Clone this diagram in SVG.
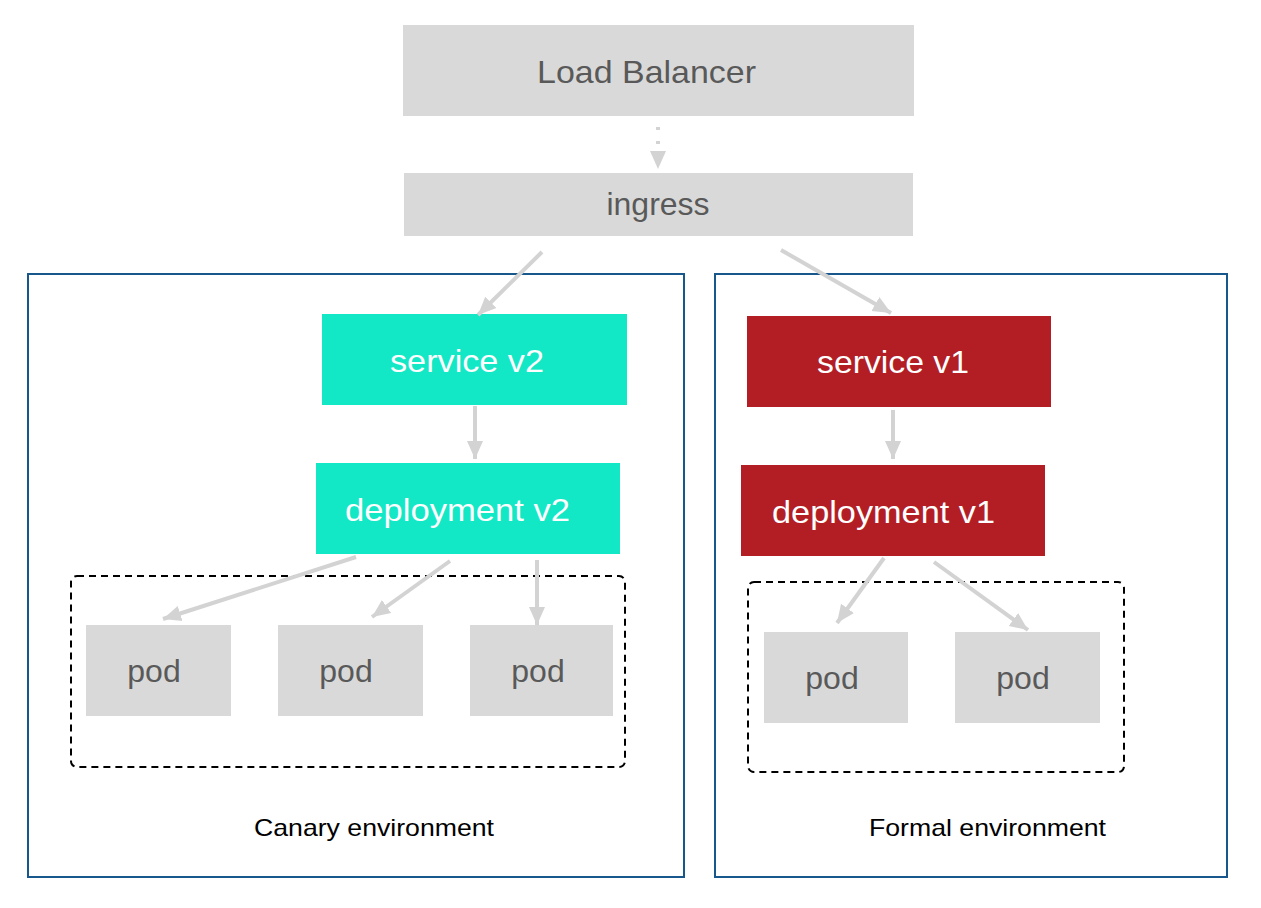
<svg xmlns="http://www.w3.org/2000/svg" width="1261" height="908" viewBox="0 0 1261 908">
<style>
.gray{fill:#d9d9d9}
.teal{fill:#12e8c5}
.red{fill:#b31e25}
.env{fill:none;stroke:#17578c;stroke-width:2}
.dash{fill:none;stroke:#000;stroke-width:2;stroke-dasharray:7 5}
.t{font-family:"Liberation Sans",Arial,sans-serif;font-size:32px}
.tg{fill:#595959}
.tw{fill:#fff}
.lbl{font-family:"Liberation Sans",Arial,sans-serif;font-size:24px;fill:#000}
.c{stroke:#d3d3d3;stroke-width:4;fill:none}
</style>
<defs>
<marker id="ah" markerUnits="userSpaceOnUse" markerWidth="20" markerHeight="20" viewBox="0 0 20 20" refX="18" refY="10" orient="auto">
<path d="M0,2 L18,10 L0,18 Z" fill="#d3d3d3"/>
</marker>
</defs>
<g id="canary-env">
<rect class="env" x="28" y="274" width="656" height="603"/>
<text class="lbl" x="254" y="836" textLength="240" lengthAdjust="spacingAndGlyphs">Canary environment</text>
</g>
<g id="formal-env">
<rect class="env" x="715" y="274" width="512" height="603"/>
<text class="lbl" x="869" y="836" textLength="237" lengthAdjust="spacingAndGlyphs">Formal environment</text>
</g>
<g id="pods-v2-group"><rect class="dash" x="71" y="576" width="554" height="191" rx="6"/></g>
<g id="pods-v1-group"><rect class="dash" x="748" y="582" width="376" height="190" rx="6"/></g>
<g id="load-balancer">
<rect class="gray" x="403" y="25" width="511" height="91"/>
<text class="t tg" x="537" y="83" textLength="219" lengthAdjust="spacingAndGlyphs">Load  Balancer</text>
</g>
<g id="ingress">
<rect class="gray" x="404" y="173" width="509" height="63"/>
<text class="t tg" x="658" y="215" text-anchor="middle">ingress</text>
</g>
<g id="service-v2">
<rect class="teal" x="322" y="314" width="305" height="91"/>
<text class="t tw" x="390" y="372" textLength="154" lengthAdjust="spacingAndGlyphs">service v2</text>
</g>
<g id="deployment-v2">
<rect class="teal" x="316" y="463" width="304" height="91"/>
<text class="t tw" x="345" y="521" textLength="225" lengthAdjust="spacingAndGlyphs">deployment  v2</text>
</g>
<g id="service-v1">
<rect class="red" x="747" y="316" width="304" height="91"/>
<text class="t tw" x="817" y="373" textLength="152" lengthAdjust="spacingAndGlyphs">service v1</text>
</g>
<g id="deployment-v1">
<rect class="red" x="741" y="465" width="304" height="91"/>
<text class="t tw" x="772" y="523" textLength="223" lengthAdjust="spacingAndGlyphs">deployment  v1</text>
</g>
<g id="pod-v2-1"><rect class="gray" x="86" y="625" width="145" height="91"/><text class="t tg" x="154" y="682" text-anchor="middle">pod</text></g>
<g id="pod-v2-2"><rect class="gray" x="278" y="625" width="145" height="91"/><text class="t tg" x="346" y="682" text-anchor="middle">pod</text></g>
<g id="pod-v2-3"><rect class="gray" x="470" y="625" width="143" height="91"/><text class="t tg" x="538" y="682" text-anchor="middle">pod</text></g>
<g id="pod-v1-1"><rect class="gray" x="764" y="632" width="144" height="91"/><text class="t tg" x="832" y="689" text-anchor="middle">pod</text></g>
<g id="pod-v1-2"><rect class="gray" x="955" y="632" width="145" height="91"/><text class="t tg" x="1023" y="689" text-anchor="middle">pod</text></g>
<g id="connectors">
<line class="c" x1="658" y1="127" x2="658" y2="169" stroke-dasharray="3 11" marker-end="url(#ah)"/>
<line class="c" x1="542" y1="252" x2="478" y2="315" marker-end="url(#ah)"/>
<line class="c" x1="781" y1="250" x2="891" y2="313" marker-end="url(#ah)"/>
<line class="c" x1="475" y1="406" x2="475" y2="459" marker-end="url(#ah)"/>
<line class="c" x1="893" y1="410" x2="893" y2="459" marker-end="url(#ah)"/>
<line class="c" x1="356" y1="557" x2="163" y2="619" marker-end="url(#ah)"/>
<line class="c" x1="450" y1="561" x2="372" y2="617" marker-end="url(#ah)"/>
<line class="c" x1="537" y1="560" x2="537" y2="625" marker-end="url(#ah)"/>
<line class="c" x1="884" y1="558" x2="837" y2="623" marker-end="url(#ah)"/>
<line class="c" x1="934" y1="562" x2="1028" y2="630" marker-end="url(#ah)"/>
</g>
</svg>
